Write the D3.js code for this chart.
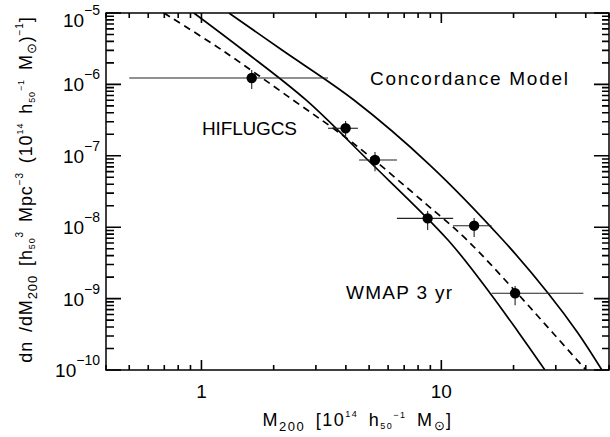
<!DOCTYPE html>
<html>
<head>
<meta charset="utf-8">
<script src="https://cdn.jsdelivr.net/npm/d3@7"></script>
<style>
  body { margin: 0; background: #fff; }
  text { font-family: "Liberation Sans", Arial, sans-serif; fill: #000; }
</style>
</head>
<body>
<div id="chart"></div>
<script>
// HIFLUGCS mass function points
const massPts = [1.62, 3.99, 5.29, 8.77, 13.7, 20.3];
const densPts = [1.23e-6, 2.43e-7, 8.73e-8, 1.33e-8, 1.05e-8, 1.19e-9];
const massLo  = [0.50, 3.37, 4.54, 6.53, 11.2, 16.2];
const massHi  = [3.37, 4.49, 6.53, 11.2, 16.2, 39.1];
const densLo  = [8.6e-7, 1.72e-7, 6.1e-8, 9.1e-9, 7.3e-9, 8.1e-10];
const densHi  = [1.59e-6, 3.07e-7, 1.13e-7, 1.69e-8, 1.35e-8, 1.5e-9];

// model curves
const wmapM = [0.930, 1.489, 2.727, 4.94, 10.66, 15.94, 21.06, 27.03];
const wmapN = [1e-5, 3.03e-6, 6.05e-7, 8.73e-8, 6.62e-9, 1.20e-9, 3.30e-10, 1e-10];
const concM = [1.302, 2.166, 4.32, 8.96, 18.06, 27.82, 37.1, 46.71];
const concN = [1e-5, 3.03e-6, 6.05e-7, 7.43e-8, 6.62e-9, 1.20e-9, 3.30e-10, 1e-10];
const dashM = [0.698, 1.217, 2.407, 4.28, 8.54, 12.79, 20.66, 29.19, 40.07];
const dashN = [1e-5, 3.03e-6, 6.05e-7, 1.51e-7, 2.18e-8, 6.62e-9, 1.20e-9, 3.30e-10, 1e-10];

// axis ticks
const yExps = [-10, -9, -8, -7, -6, -5];
const xLabels = [1, 10];

const W = 610, H = 437;
const padL = 106, padT = 13, padR = 609, padB = 370;

const svg = d3.select("#chart").append("svg")
    .attr("width", W)
    .attr("height", H);

const x = d3.scaleLog().domain([0.4, 50]).range([padL, padR]);
const y = d3.scaleLog().domain([1e-10, 1e-5]).range([padB, padT]);

// minor/major tick values
const yMajor = yExps.map(e => Math.pow(10, e));
let yMinor = [];
yExps.slice(0, -1).forEach(e => {
    for (let k = 2; k <= 9; k++) yMinor.push(k * Math.pow(10, e));
});
const xMajor = [1, 10];
let xMinor = [];
[0.1, 1, 10].forEach(d => {
    for (let k = 1; k <= 9; k++) {
        const v = k * d;
        if (v >= 0.4 && v <= 50 && v !== 1 && v !== 10) xMinor.push(v);
    }
});

// tick marks: one path per side, built from the scales
function tickPath(vals, fixed, len, vertical) {
    const p = d3.path();
    vals.forEach(v => {
        if (vertical) {
            p.moveTo(fixed, y(v));
            p.lineTo(fixed + len, y(v));
        } else {
            p.moveTo(x(v), fixed);
            p.lineTo(x(v), fixed + len);
        }
    });
    svg.append("path")
        .attr("d", p.toString())
        .attr("fill", "none")
        .attr("stroke", "#000")
        .attr("stroke-width", 1.6);
}
tickPath(yMajor, padL, 15, true);
tickPath(yMinor, padL, 8, true);
tickPath(yMajor, padR, -15, true);
tickPath(yMinor, padR, -7, true);
tickPath(xMajor, padB, -10, false);
tickPath(xMinor, padB, -5, false);
tickPath(xMajor, padT, 10, false);
tickPath(xMinor, padT, 5, false);

// frame
svg.append("rect")
    .attr("x", padL).attr("y", padT)
    .attr("width", padR - padL).attr("height", padB - padT)
    .attr("fill", "none")
    .attr("stroke", "#000")
    .attr("stroke-width", 1.5);

// y tick labels: 10^n
yExps.forEach(e => {
    let py = y(Math.pow(10, e)) + 7;
    if (py < 27) py = 27;
    const t = svg.append("text")
        .attr("x", 100)
        .attr("y", py)
        .attr("text-anchor", "end")
        .attr("font-size", 19)
        .text("10");
    t.append("tspan")
        .attr("font-size", 14)
        .attr("dy", -12)
        .text("\u2212" + Math.abs(e));
});

// x tick labels
xLabels.forEach(v => {
    svg.append("text")
        .attr("x", x(v))
        .attr("y", 398)
        .attr("text-anchor", "middle")
        .attr("font-size", 19)
        .text(v);
});

// clip for curves
svg.append("clipPath").attr("id", "plotclip")
    .append("rect")
    .attr("x", padL).attr("y", padT)
    .attr("width", padR - padL).attr("height", padB - padT);

const line = d3.line()
    .x(d => x(d[0]))
    .y(d => y(d[1]))
    .curve(d3.curveCatmullRom);

const curves = svg.append("g").attr("clip-path", "url(#plotclip)");
curves.append("path")
    .datum(d3.zip(wmapM, wmapN))
    .attr("d", line)
    .attr("fill", "none").attr("stroke", "#000").attr("stroke-width", 1.7);
curves.append("path")
    .datum(d3.zip(concM, concN))
    .attr("d", line)
    .attr("fill", "none").attr("stroke", "#000").attr("stroke-width", 1.7);
curves.append("path")
    .datum(d3.zip(dashM, dashN))
    .attr("d", line)
    .attr("fill", "none").attr("stroke", "#000").attr("stroke-width", 1.7)
    .attr("stroke-dasharray", "7,5");

// error bars + points
const pts = massPts.map((m, i) => ({
    m: m, n: densPts[i],
    mlo: massLo[i], mhi: massHi[i],
    nlo: densLo[i], nhi: densHi[i]
}));

const pg = svg.append("g");
pg.selectAll(".xerr").data(pts).enter().append("line")
    .attr("x1", d => x(d.mlo)).attr("x2", d => x(d.mhi))
    .attr("y1", d => y(d.n)).attr("y2", d => y(d.n))
    .attr("stroke", "#222").attr("stroke-width", 1.1);
pg.selectAll(".yerr").data(pts).enter().append("line")
    .attr("x1", d => x(d.m)).attr("x2", d => x(d.m))
    .attr("y1", d => y(d.nlo)).attr("y2", d => y(d.nhi))
    .attr("stroke", "#222").attr("stroke-width", 1.1);
pg.selectAll("circle").data(pts).enter().append("circle")
    .attr("cx", d => x(d.m))
    .attr("cy", d => y(d.n))
    .attr("r", 5.2)
    .attr("fill", "#000");

// labels inside the plot
svg.append("text")
    .attr("x", 370).attr("y", 85)
    .attr("font-size", 19)
    .attr("textLength", 198).attr("lengthAdjust", "spacing")
    .text("Concordance Model");
svg.append("text")
    .attr("x", 202).attr("y", 135)
    .attr("font-size", 19)
    .attr("textLength", 95).attr("lengthAdjust", "spacing")
    .text("HIFLUGCS");
svg.append("text")
    .attr("x", 346).attr("y", 299)
    .attr("font-size", 19)
    .attr("textLength", 106).attr("lengthAdjust", "spacing")
    .text("WMAP 3 yr");

// x axis title
const xt = svg.append("text")
    .attr("x", (padL + padR) / 2)
    .attr("y", 426)
    .attr("text-anchor", "middle")
    .attr("font-size", 18)
    .attr("letter-spacing", 1.5)
    .attr("word-spacing", 4);
xt.append("tspan").text("M");
xt.append("tspan").attr("font-size", 13).attr("dy", 5).text("200");
xt.append("tspan").attr("dy", -5).text(" [10");
xt.append("tspan").attr("font-size", 9).attr("dy", -9).text("14");
xt.append("tspan").attr("dy", 9).text(" h");
xt.append("tspan").attr("font-size", 9).attr("dy", 3).text("50");
xt.append("tspan").attr("font-size", 9).attr("dy", -11).text("\u22121");
xt.append("tspan").attr("dy", 8).text(" M");
xt.append("tspan").attr("font-size", 13).attr("dy", 4).text("\u2299");
xt.append("tspan").attr("dy", -4).text("]");

// y axis title (rotated)
const yt = svg.append("text")
    .attr("transform", `translate(32,${(padT + padB) / 2 - 2}) rotate(-90)`)
    .attr("text-anchor", "middle")
    .attr("font-size", 18)
    .attr("letter-spacing", 0.9)
    .attr("word-spacing", 3);
yt.append("tspan").text("dn /dM");
yt.append("tspan").attr("font-size", 13).attr("dy", 5).text("200");
yt.append("tspan").attr("dy", -5).text("  [h");
yt.append("tspan").attr("font-size", 9).attr("dy", 3).text("50");
yt.append("tspan").attr("font-size", 10).attr("dy", -12).text("3");
yt.append("tspan").attr("dy", 9).text(" Mpc");
yt.append("tspan").attr("font-size", 10).attr("dy", -9).text("\u22123");
yt.append("tspan").attr("dy", 9).text(" (10");
yt.append("tspan").attr("font-size", 9).attr("dy", -9).text("14");
yt.append("tspan").attr("dy", 9).text(" h");
yt.append("tspan").attr("font-size", 9).attr("dy", 3).text("50");
yt.append("tspan").attr("font-size", 9).attr("dy", -11).text("\u22121");
yt.append("tspan").attr("dy", 8).text(" M");
yt.append("tspan").attr("font-size", 13).attr("dy", 4).text("\u2299");
yt.append("tspan").attr("dy", -4).text(")");
yt.append("tspan").attr("font-size", 10).attr("dy", -9).text("\u22121");
yt.append("tspan").attr("dy", 9).text("]");
</script>
</body>
</html>
